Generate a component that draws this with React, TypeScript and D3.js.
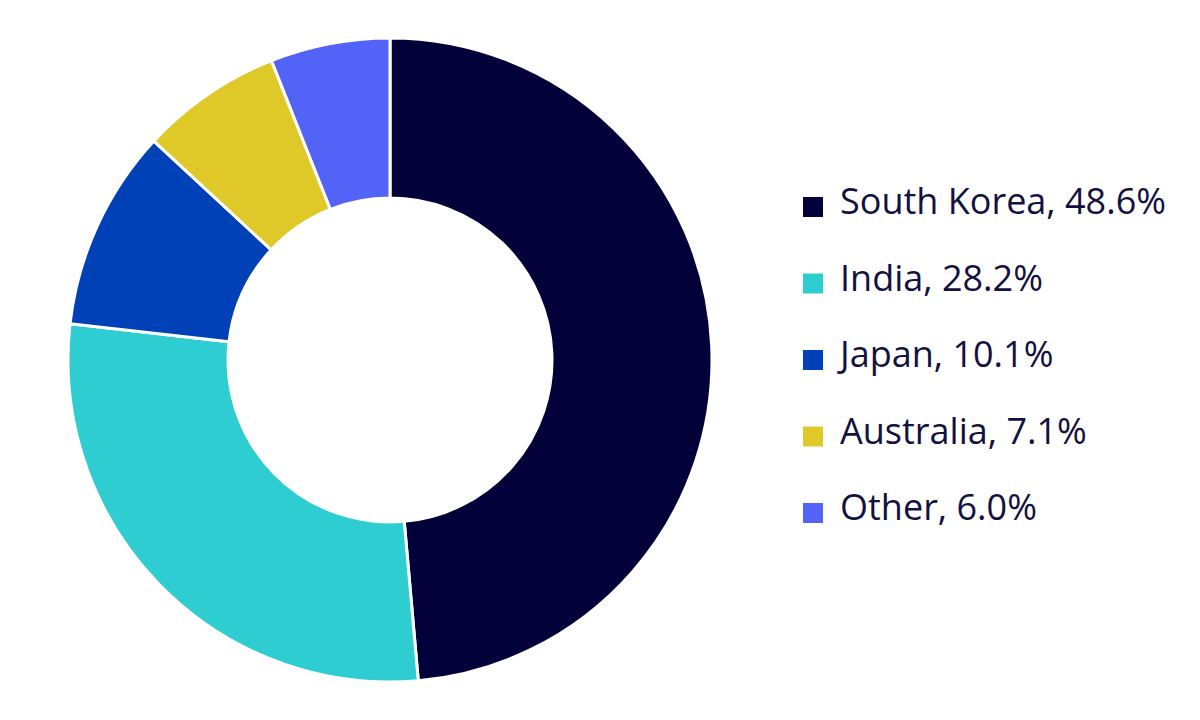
import React from "react";
import * as d3 from "d3";

const categories = ["South Korea", "India", "Japan", "Australia", "Other"];
const values = [48.6, 28.2, 10.1, 7.1, 6.0];
const colors = ["#03013a", "#2ecdd2", "#0041b8", "#dfc928", "#5463f7"];

export default function App() {
  const width = 1200;
  const height = 720;
  const cx = 390;
  const cy = 360;
  const outerR = 322;
  const innerR = 162;
  const data = categories.map((c, i) => ({ name: c, value: values[i], color: colors[i] }));
  const pie = d3.pie<any>().sort(null).value((d: any) => d.value);
  const arc = d3.arc<any>().innerRadius(innerR).outerRadius(outerR);
  const arcs = pie(data);
  const legendY = d3.scalePoint<string>().domain(categories).range([207, 513]);
  return (
    <svg width={width} height={height} style={{ position: "absolute", left: 0, top: 0 }}>
      <rect width={width} height={height} fill="#ffffff" />
      <g transform={`translate(${cx},${cy})`}>
        {arcs.map((a, i) => (
          <path key={i} d={arc(a) as string} fill={a.data.color} stroke="#ffffff" strokeWidth={3} strokeLinejoin="miter" />
        ))}
      </g>
      <g>
        {data.map((d, i) => {
          const y = legendY(d.name) as number;
          return (
            <g key={i}>
              <rect x={803} y={y - 10} width={20} height={20} fill={d.color} />
              <text x={840} y={y + 7} fontFamily="'Open Sans', sans-serif" fontSize={36} fill="#12113f">
                {`${d.name}, ${d.value.toFixed(1)}%`}
              </text>
            </g>
          );
        })}
      </g>
    </svg>
  );
}
